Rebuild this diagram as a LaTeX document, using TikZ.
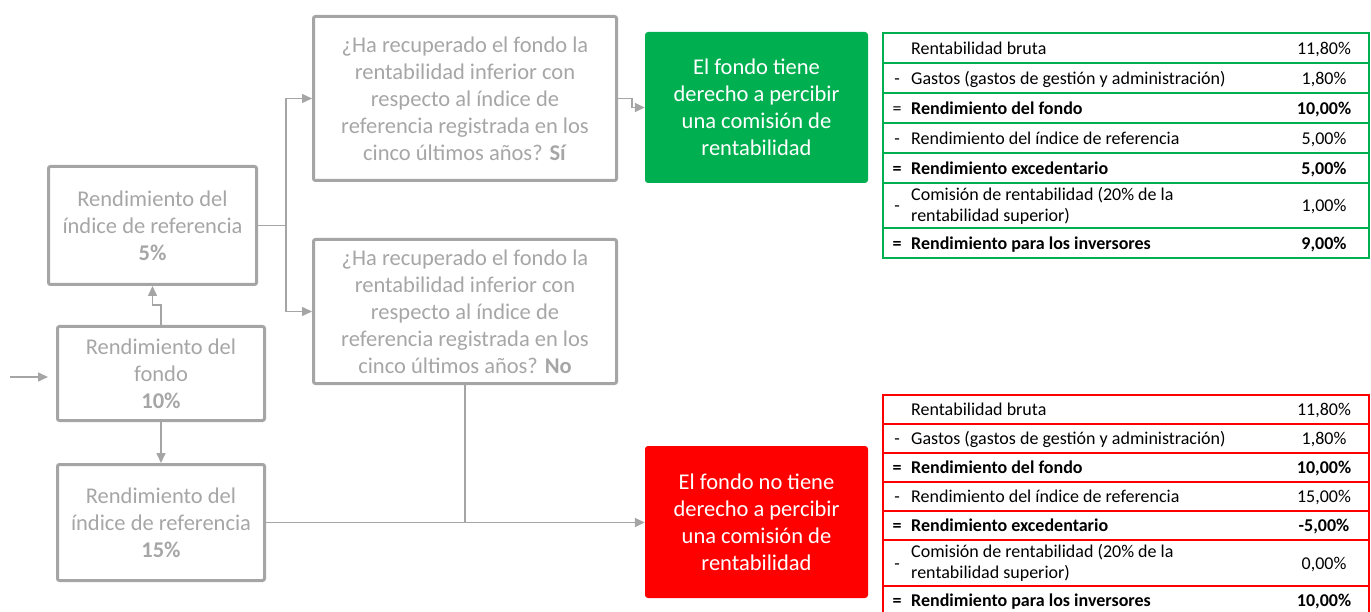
\documentclass[tikz,border=0pt]{standalone}
\usepackage{fontspec}
\setmainfont{Carlito}
\usepackage{xcolor}
\usetikzlibrary{positioning,calc,arrows.meta}
\definecolor{boxgray}{HTML}{A5A5A5}
\definecolor{txtgray}{HTML}{A6A6A6}
\definecolor{okgreen}{HTML}{00B050}
\definecolor{nored}{HTML}{FF0000}

\begin{document}
\begin{tikzpicture}[x=1pt,y=-1pt,
    gbox/.style={draw=boxgray,line width=3pt,rounded corners=2pt,text=txtgray,align=center,inner sep=0pt,font=\fontsize{22.5}{27}\selectfont},
    res/.style={fill=#1,rounded corners=3pt,text=white,align=center,inner sep=0pt,minimum width=223pt,minimum height=151pt,font=\fontsize{22.5}{27}\selectfont},
    link/.style={draw=boxgray,line width=1.5pt},
    arr/.style={link,-{Triangle[length=10pt,width=9pt]}},
    rowbox/.style={draw=#1,line width=1.5pt,inner sep=0pt,minimum width=486pt},
    cell/.style={inner sep=0pt,yshift=-2pt,font=\fontsize{18}{21}\selectfont,execute at begin node=\strut}]
		\useasboundingbox (0,0) rectangle (1371,612);
		\node[gbox,minimum width=208pt,minimum height=118pt] (ref5) at (152.5,225.5) {Rendimiento del\\índice de referencia\\\textbf{5\%}};
		\node[gbox,minimum width=207pt,minimum height=94pt] (fondo) at (161,373.5) {Rendimiento del\\fondo\\\textbf{10\%}};
		\node[gbox,minimum width=207pt,minimum height=116pt,below=41pt of fondo] (ref15) {Rendimiento del\\índice de referencia\\\textbf{15\%}};
		\node[gbox,minimum width=303pt,minimum height=164pt] (qsi) at (465,98.5) {¿Ha recuperado el fondo la\\rentabilidad inferior con\\respecto al índice de\\referencia registrada en los\\cinco últimos años? \textbf{Sí}};
		\node[gbox,minimum width=303pt,minimum height=144pt,below=56pt of qsi] (qno) {¿Ha recuperado el fondo la\\rentabilidad inferior con\\respecto al índice de\\referencia registrada en los\\cinco últimos años? \textbf{No}};
		\node[res=okgreen] (si) at (756.5,107.5) {El fondo tiene\\derecho a percibir\\una comisión de\\rentabilidad};
		\node[res=nored,minimum height=152pt] (no) at (756.5,522) {El fondo no tiene\\derecho a percibir\\una comisión de\\rentabilidad};
		\coordinate (in) at (10,377);
		%
		\draw[arr,shorten >=8pt] (in) -- (in -| fondo.west);
		\draw[arr] (fondo.north) -- ++(0,-20) -| (ref5.south);
		\draw[arr] (fondo.south) -- (ref15.north);
		\draw[link] (ref5.east) -- ++(28,0) coordinate (fork);
		\draw[arr] (fork) |- (qsi.west);
		\draw[arr] (fork) |- (qno.west);
		\draw[arr] (qsi.east) -- ++(14,0) |- (si.west);
		\draw[arr] (ref15.east) -- (ref15.east -| no.west);
		\draw[link] (qno.south) -- (qno.south |- ref15.east);
		%
		\foreach \yc/\h/\s/\t/\v [count=\i] in {
		    48/30/{}/{Rentabilidad bruta}/{11,80\%},
		    78/30/{-}/{Gastos (gastos de gestión y administración)}/{1,80\%},
		    108/30/{=}/{\textbf{Rendimiento del fondo}}/{\textbf{10,00\%}},
		    138/30/{-}/{Rendimiento del índice de referencia}/{5,00\%},
		    168/30/{\textbf{=}}/{\textbf{Rendimiento excedentario}}/{\textbf{5,00\%}},
		    205.5/45/{-}/{Comisión de rentabilidad (20\% de la\\rentabilidad superior)}/{1,00\%},
		    243/30/{\textbf{=}}/{\textbf{Rendimiento para los inversores}}/{\textbf{9,00\%}}} {
		  \node[rowbox=okgreen,minimum height=\h pt] (g\i) at (1126,\yc) {};
		  \node[cell] at (897,\yc) {\s};
		  \node[cell,anchor=west,align=left] at (911,\yc) {\t};
		  \node[cell] at (1324,\yc) {\v};
		}
		\foreach \yc/\h/\s/\t/\v [count=\i] in {
		    409.5/29/{}/{Rentabilidad bruta}/{11,80\%},
		    438.5/29/{-}/{Gastos (gastos de gestión y administración)}/{1,80\%},
		    467.5/29/{\textbf{=}}/{\textbf{Rendimiento del fondo}}/{\textbf{10,00\%}},
		    496.5/29/{-}/{Rendimiento del índice de referencia}/{15,00\%},
		    525.5/29/{\textbf{=}}/{\textbf{Rendimiento excedentario}}/{\textbf{-5,00\%}},
		    563/46/{-}/{Comisión de rentabilidad (20\% de la\\rentabilidad superior)}/{0,00\%},
		    600.5/29/{\textbf{=}}/{\textbf{Rendimiento para los inversores}}/{\textbf{10,00\%}}} {
		  \node[rowbox=nored,minimum height=\h pt] (r\i) at (1126,\yc) {};
		  \node[cell] at (897,\yc) {\s};
		  \node[cell,anchor=west,align=left] at (911,\yc) {\t};
		  \node[cell] at (1324,\yc) {\v};
		}
\end{tikzpicture}
\end{document}
